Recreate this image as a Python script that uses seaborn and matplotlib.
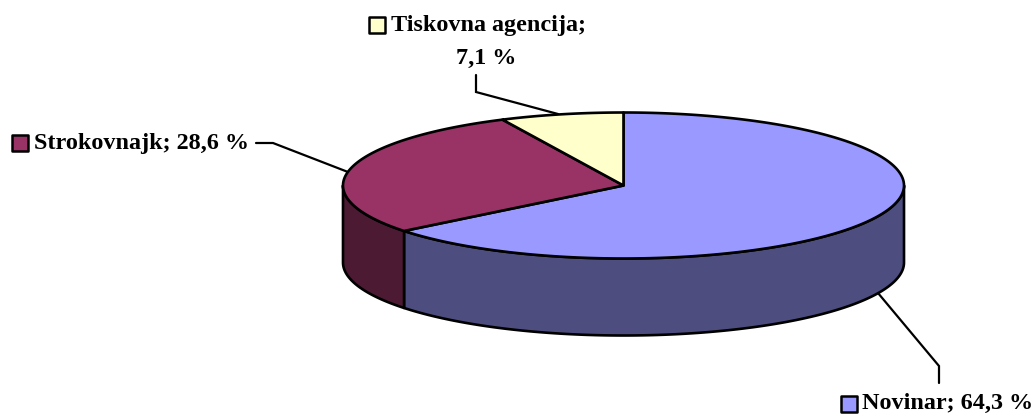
import numpy as np
import matplotlib
matplotlib.use("Agg")
import matplotlib.pyplot as plt
import seaborn as sns

# Data
labels = ["Novinar", "Strokovnajk", "Tiskovna agencija"]
shares = [64.3, 28.6, 7.1]
top_colors = ["#9999FF", "#993366", "#FFFFCC"]
side_colors = ["#4D4D80", "#4D1A33", "#808066"]

sns.set_theme(style="white")
plt.rcParams['font.family'] = ['Liberation Serif', 'DejaVu Sans']

fig, ax = plt.subplots(figsize=(10.35, 4.15), dpi=100)
fig.subplots_adjust(0, 0, 1, 1)
ax.set_xlim(0, 1035)
ax.set_ylim(415, 0)
ax.axis("off")

# pie geometry in pixels
cx, cy = 623.5, 185.5
rx, ry = 280.5, 73
depth = 77
lw = 1.9


def rim(a0, a1, n=200):
    # angles are clockwise from 12 o'clock
    t = np.radians(np.linspace(a0, a1, n))
    return cx + rx * np.sin(t), cy - ry * np.cos(t)


edges = np.concatenate([[0], np.cumsum(shares)]) / sum(shares) * 360

# side walls, only the front half (90..270 deg) is visible
for i in range(len(shares)):
    a0 = max(edges[i], 90)
    a1 = min(edges[i + 1], 270)
    if a1 <= a0:
        continue
    x, y = rim(a0, a1)
    ax.fill(np.r_[x, x[::-1]], np.r_[y, y[::-1] + depth], facecolor=side_colors[i],
            edgecolor="black", lw=lw, joinstyle="round", zorder=2)

# top slices
for i in range(len(shares)):
    x, y = rim(edges[i], edges[i + 1])
    ax.fill(np.r_[cx, x], np.r_[cy, y], facecolor=top_colors[i],
            edgecolor="black", lw=lw, joinstyle="round", zorder=3)

# leader lines
leaders = [
    ([878, 939, 939], [293, 366, 383]),
    ([256, 273, 348], [143, 143, 172]),
    ([476, 476, 558], [75, 92, 114]),
]
for lx, ly in leaders:
    ax.plot(lx, ly, color="black", lw=1.6, zorder=1, solid_joinstyle="miter")


def pct(i):
    return f"{shares[i]:.1f}".replace(".", ",") + " %"


font = dict(fontsize=17.4, fontweight="bold", color="black", va="center")
ax.text(862, 403, f"{labels[0]}; {pct(0)}", ha="left", **font)
ax.text(34, 143, f"{labels[1]}; {pct(1)}", ha="left", **font)
ax.text(391, 26, labels[2] + ";", ha="left", **font)
ax.text(486, 58, pct(2), ha="center", **font)

# legend keys next to the labels
keys = [(849, 404), (20, 143), (377, 25)]
for (kx, ky), c in zip(keys, top_colors):
    ax.scatter([kx], [ky], marker="s", s=125, facecolor=c, edgecolor="black",
               linewidth=1.8, zorder=4)

fig.savefig("out.png", dpi=100)
